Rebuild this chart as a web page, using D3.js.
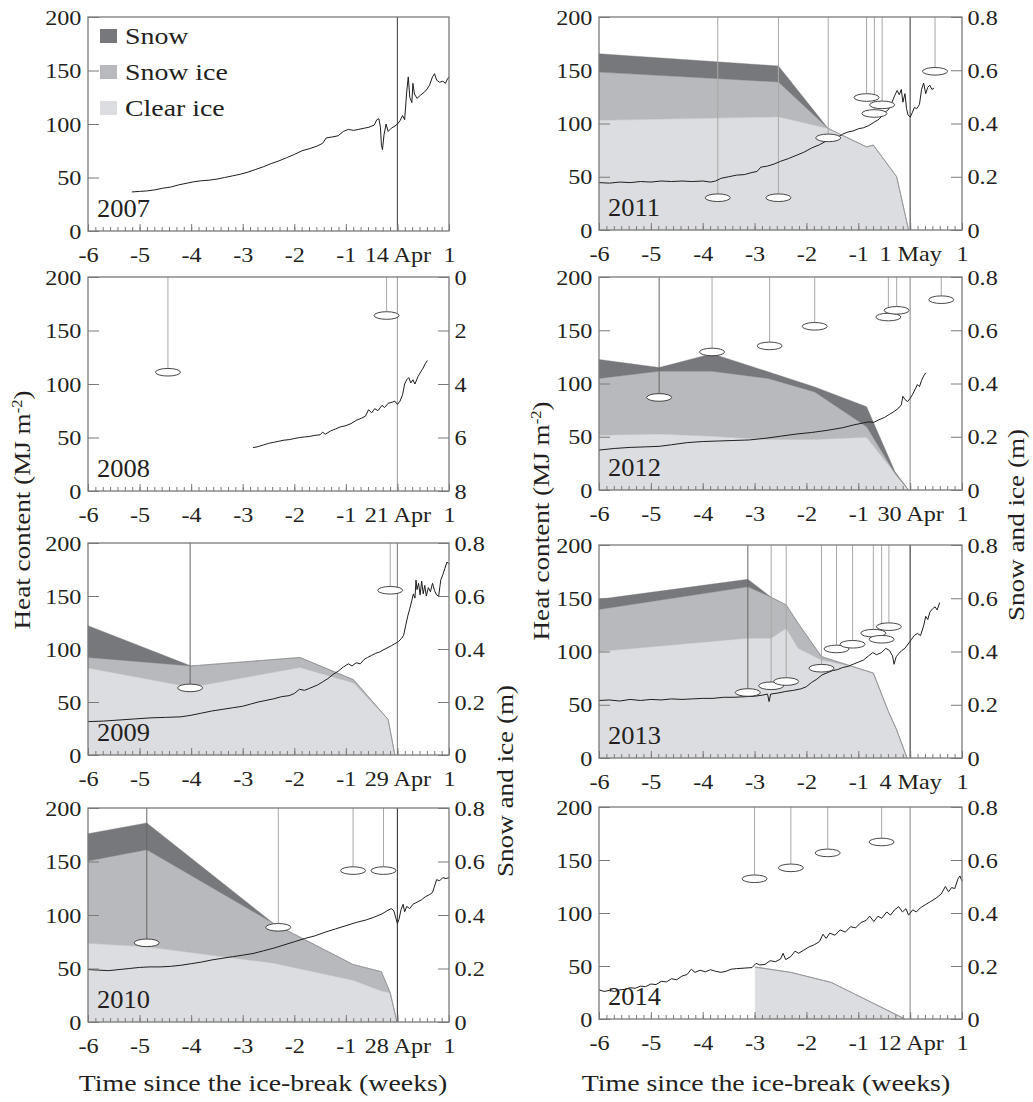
<!DOCTYPE html>
<html><head><meta charset="utf-8">
<script src="https://cdn.jsdelivr.net/npm/d3@7"></script>
<style>
html,body{margin:0;padding:0;background:#fff;}
svg{display:block;}
text{font-family:"Liberation Serif","Times New Roman",serif;fill:#231f20;}
</style></head><body>
<svg id="chart" width="1033" height="1102"></svg>
<script>
// ---------------- DATA ----------------
const years = ["2007","2008","2009","2010","2011","2012","2013","2014"];
const breakDates = ["14 Apr","21 Apr","29 Apr","28 Apr","1 May","30 Apr","4 May","12 Apr"];
const weekTicks = [-6,-5,-4,-3,-2,-1,0,1];
const heatTicks = [0,50,100,150,200];
const iceTicks = [0,0.2,0.4,0.6,0.8];
const ice2008Ticks = [0,2,4,6,8];
const layerNames = ["Snow","Snow ice","Clear ice"];

// heat content [week, MJ m-2]
const heat2007 = [[-5.15,36.5],[-5.0,37],[-4.85,37.5],[-4.7,38.5],[-4.55,40],[-4.4,41],[-4.25,43],[-4.1,44.5],[-3.95,46],[-3.8,47],[-3.65,47.5],[-3.5,48.5],[-3.35,50],[-3.2,51.5],[-3.05,53],[-2.9,55],[-2.75,57.5],[-2.6,60],[-2.45,63],[-2.3,65.5],[-2.15,68.5],[-2.0,71.5],[-1.85,75],[-1.7,77],[-1.55,79.5],[-1.45,82],[-1.38,87],[-1.25,88],[-1.15,89],[-1.05,93],[-0.95,95],[-0.85,94],[-0.75,95],[-0.65,96],[-0.55,97],[-0.45,99],[-0.4,104],[-0.36,105],[-0.33,97],[-0.31,80],[-0.29,76],[-0.26,90],[-0.22,100],[-0.18,93],[-0.12,96],[-0.05,98],[0,100],[0.05,103],[0.1,108],[0.14,104],[0.18,130],[0.21,144],[0.24,125],[0.28,120],[0.3,138],[0.33,128],[0.38,124],[0.45,127],[0.55,131],[0.62,136],[0.68,144],[0.72,147],[0.76,141],[0.82,139],[0.88,140],[0.93,138],[0.97,142],[1.0,144]];
const heat2008 = [[-2.8,40.5],[-2.7,41.5],[-2.6,43],[-2.5,44.5],[-2.4,45.5],[-2.3,46.5],[-2.2,47.5],[-2.1,48],[-2.0,49],[-1.9,50],[-1.8,50.5],[-1.7,51],[-1.6,52],[-1.5,52.5],[-1.45,55],[-1.4,53],[-1.3,56],[-1.2,58],[-1.1,60],[-1.0,61],[-0.9,63],[-0.8,66],[-0.7,68],[-0.62,70],[-0.56,76],[-0.5,73],[-0.44,77],[-0.38,75],[-0.3,80],[-0.25,78],[-0.18,82],[-0.1,83],[-0.05,84],[0,81],[0.05,84],[0.1,90],[0.14,100],[0.18,104],[0.22,106],[0.26,101],[0.3,104],[0.34,100],[0.4,107],[0.46,112],[0.5,115],[0.54,119],[0.58,122]];
const heat2009 = [[-6,31.5],[-5.7,32],[-5.4,33],[-5.1,34],[-4.8,35],[-4.5,35.5],[-4.2,36],[-4.0,37.5],[-3.8,39.5],[-3.6,41.5],[-3.4,43],[-3.2,44.5],[-3.0,46],[-2.85,48],[-2.7,50],[-2.55,51.5],[-2.4,53],[-2.25,55],[-2.1,56],[-2.0,58],[-1.9,62],[-1.8,61],[-1.7,63],[-1.55,66],[-1.45,69],[-1.35,72],[-1.25,76],[-1.15,79],[-1.05,83],[-0.95,86],[-0.88,84],[-0.8,87],[-0.72,86],[-0.65,90],[-0.58,92],[-0.5,94],[-0.42,96],[-0.35,97],[-0.28,99],[-0.2,101],[-0.12,103],[-0.05,105],[0.02,107],[0.08,110],[0.12,113],[0.16,122],[0.2,131],[0.24,138],[0.28,146],[0.31,152],[0.34,148],[0.36,165],[0.38,156],[0.41,162],[0.44,151],[0.47,164],[0.5,152],[0.53,160],[0.56,150],[0.6,158],[0.64,154],[0.68,162],[0.72,155],[0.76,151],[0.8,150],[0.84,165],[0.88,170],[0.92,176],[0.96,182],[1.0,180]];
const heat2010 = [[-6,49],[-5.8,48.5],[-5.6,48],[-5.4,49],[-5.2,50],[-5.0,51],[-4.8,51.5],[-4.6,51.5],[-4.4,52],[-4.2,53],[-4.0,54.5],[-3.8,56],[-3.6,58],[-3.4,59.5],[-3.2,61],[-3.0,62.5],[-2.8,64],[-2.6,66.5],[-2.4,69],[-2.2,72],[-2.0,75],[-1.8,78],[-1.6,80.5],[-1.4,84],[-1.2,87],[-1.0,90],[-0.8,93],[-0.6,95.5],[-0.45,98],[-0.3,101],[-0.2,104],[-0.12,106],[-0.07,104],[-0.03,97],[0,92],[0.03,96],[0.07,105],[0.11,110],[0.14,103],[0.18,108],[0.24,106],[0.3,110],[0.38,112],[0.46,114],[0.54,117],[0.62,119],[0.68,121],[0.72,127],[0.76,133],[0.82,132],[0.88,135],[0.94,134],[1.0,135]];
const heat2011 = [[-6,44.5],[-5.8,44],[-5.6,45],[-5.4,44.5],[-5.2,45.5],[-5.0,45],[-4.8,46],[-4.6,45.5],[-4.4,46],[-4.2,45.5],[-4.0,46],[-3.85,45],[-3.75,46],[-3.65,48.5],[-3.5,50],[-3.35,51.5],[-3.2,52],[-3.05,54],[-2.95,55],[-2.88,59],[-2.75,60],[-2.62,62],[-2.5,64.5],[-2.35,67],[-2.2,70],[-2.05,73],[-1.9,77],[-1.75,80],[-1.6,84],[-1.5,86],[-1.4,87],[-1.3,90],[-1.2,92],[-1.1,93],[-1.0,95],[-0.9,96],[-0.8,98],[-0.7,101],[-0.6,104],[-0.5,110],[-0.42,113],[-0.35,120],[-0.3,126],[-0.25,131],[-0.21,127],[-0.17,132],[-0.14,120],[-0.1,128],[-0.07,114],[-0.04,108],[0,106],[0.04,110],[0.08,115],[0.13,114],[0.18,118],[0.22,132],[0.26,138],[0.3,128],[0.34,134],[0.38,136],[0.42,132],[0.46,133]];
const heat2012 = [[-6,37.5],[-5.7,39],[-5.4,40],[-5.1,40.5],[-4.84,41],[-4.6,42.5],[-4.3,44.5],[-4.0,45.5],[-3.7,46],[-3.4,46.5],[-3.1,47],[-2.8,48.5],[-2.5,50.5],[-2.2,52.5],[-1.9,54],[-1.6,56],[-1.3,58.5],[-1.1,61],[-0.9,63],[-0.8,64],[-0.7,63.5],[-0.6,66],[-0.5,68],[-0.4,71],[-0.3,74],[-0.22,77],[-0.17,80],[-0.14,88],[-0.1,85],[-0.05,83],[0,86],[0.05,90],[0.1,95],[0.14,99],[0.18,97],[0.22,103],[0.26,107],[0.3,110]];
const heat2013 = [[-6,54],[-5.8,54.5],[-5.6,53.5],[-5.4,55],[-5.2,54],[-5.0,55],[-4.8,54.5],[-4.6,55.5],[-4.4,55],[-4.2,55.5],[-4.0,56],[-3.8,56],[-3.6,57],[-3.4,57],[-3.2,57.5],[-3.0,58],[-2.85,59],[-2.75,60],[-2.72,53],[-2.69,60],[-2.55,61],[-2.4,62.5],[-2.25,63.5],[-2.1,65],[-2.0,67],[-1.9,71],[-1.8,74],[-1.7,78],[-1.6,80],[-1.5,82],[-1.4,83],[-1.3,85],[-1.2,86],[-1.1,88],[-1.0,90],[-0.9,92],[-0.8,96],[-0.72,99],[-0.65,97],[-0.55,99],[-0.47,103],[-0.4,101],[-0.34,96],[-0.31,88],[-0.27,95],[-0.22,98],[-0.16,101],[-0.1,103],[-0.04,107],[0.02,111],[0.08,115],[0.14,117],[0.2,115],[0.26,124],[0.3,133],[0.34,130],[0.38,137],[0.43,140],[0.48,142],[0.52,139],[0.57,146]];
const heat2014 = [[-6,27.5],[-5.9,26],[-5.8,27],[-5.7,26],[-5.6,27.5],[-5.5,28],[-5.4,29.5],[-5.3,29],[-5.2,31],[-5.1,30.5],[-5.0,33],[-4.9,32.5],[-4.8,35.5],[-4.7,35],[-4.6,38],[-4.5,37],[-4.4,40.5],[-4.3,42],[-4.22,47],[-4.15,44],[-4.05,46],[-3.95,44.5],[-3.85,46.5],[-3.75,45],[-3.65,44],[-3.55,45],[-3.45,47],[-3.35,47.5],[-3.2,48],[-3.05,48.5],[-2.97,52.5],[-2.9,51],[-2.8,51.5],[-2.7,55],[-2.6,54],[-2.5,56.5],[-2.45,62],[-2.4,56],[-2.3,59],[-2.22,64],[-2.15,62],[-2.05,65],[-1.95,68],[-1.85,70],[-1.75,73],[-1.68,80],[-1.62,76],[-1.55,81],[-1.45,79],[-1.35,84],[-1.25,82],[-1.15,87],[-1.05,86],[-0.95,91],[-0.85,93],[-0.78,97],[-0.7,92],[-0.62,97],[-0.55,95],[-0.45,101],[-0.38,98],[-0.3,103],[-0.22,106],[-0.15,101],[-0.08,104],[-0.03,98],[0.05,103],[0.12,101],[0.2,105],[0.3,108],[0.4,111],[0.5,114],[0.6,118],[0.68,125],[0.74,120],[0.8,124],[0.86,123],[0.92,132],[0.96,135],[1.0,130]];

// snow and ice layers (m) at measurement dates (weeks)
const iceDates2009 = [-6,-4,-1.89,-0.85,-0.18,-0.05];
const clearIce2009 = [0.328,0.256,0.330,0.272,0.134,0];
const snowIce2009 = [0.040,0.080,0.038,0.012,0,0];
const snow2009 = [0.120,0,0,0,0,0];
const iceDates2010 = [-6,-4.86,-2.4,-0.86,-0.31,-0.14,-0.01];
const clearIce2010 = [0.294,0.281,0.220,0.156,0.116,0.109,0];
const snowIce2010 = [0.308,0.363,0.148,0.059,0.072,0,0];
const snow2010 = [0.102,0.100,0,0,0,0,0];
const iceDates2011 = [-6,-2.54,-1.58,-0.84,-0.71,-0.26,-0.03];
const clearIce2011 = [0.412,0.425,0.381,0.312,0.319,0.200,0];
const snowIce2011 = [0.181,0.131,0,0,0,0,0];
const snow2011 = [0.069,0.060,0,0,0,0,0];
const iceDates2012 = [-6,-4.84,-3.82,-2.74,-1.84,-0.84,-0.29,-0.03];
const clearIce2012 = [0.206,0.210,0.202,0.190,0.190,0.198,0.062,0];
const snowIce2012 = [0.213,0.236,0.244,0.229,0.178,0.040,0,0];
const snow2012 = [0.071,0.014,0.066,0.025,0.019,0.075,0.006,0];
const iceDates2013 = [-6,-3.13,-2.68,-2.39,-2.16,-1.71,-1.1,-0.71,-0.42,-0.26,-0.06];
const clearIce2013 = [0.400,0.450,0.450,0.487,0.412,0.368,0.343,0.319,0.175,0.106,0];
const snowIce2013 = [0.158,0.193,0.154,0.088,0.094,0.013,0,0,0,0,0];
const snow2013 = [0.038,0.028,0,0,0,0,0,0,0,0,0];
const iceDates2014 = [-2.99,-2.3,-1.52,-0.1];
const clearIce2014 = [0.196,0.176,0.138,0];
const snowIce2014 = [0,0,0,0];
const snow2014 = [0,0,0,0];

// measurement markers [week, heat-axis position]
const markers2008 = [[-4.45,111],[-0.21,164]];
const markers2009 = [[-4.02,63.3],[-0.14,155.4]];
const markers2010 = [[-4.86,74],[-2.31,88.5],[-0.86,141.5],[-0.27,141.5]];
const markers2011 = [[-3.71,30.3],[-2.54,30.3],[-1.58,86.5],[-0.84,124.4],[-0.54,117.5],[-0.69,109.4],[0.48,149]];
const markers2012 = [[-4.84,86.9],[-3.82,129.6],[-2.71,135.3],[-1.84,153.7],[-0.42,162.4],[-0.26,168.7],[0.6,178.7]];
const markers2013 = [[-3.13,61.5],[-2.68,67.8],[-2.39,71.8],[-1.71,84.3],[-1.42,102.4],[-1.11,106.8],[-0.71,117.2],[-0.55,111.5],[-0.41,123.3]];
const markers2014 = [[-3.0,132.3],[-2.3,142.6],[-1.59,156.7],[-0.55,167]];

// ---------------- STYLE / LAYOUT ----------------
const layerColors = {clear:"#dcdde0", snowIce:"#b8b9bc", snow:"#77787b"};
const axisColor = "#7a7a7a";
const breakColor = {"2007":"#555","2008":"#a5a5a5","2009":"#8a8a8a","2010":"#444","2011":"#555","2012":"#999","2013":"#444","2014":"#9a9a9a"};
const darkLines = {"2009":[0],"2010":[0],"2012":[0],"2013":[0]};
const cols = [{x0:88,x1:449},{x0:599,x1:962}];
const rowsLeft = [[17,231],[277,491],[543,755],[808,1022]];
const rowsRight = [[17,230],[277,490],[545,758],[807,1019]];
const TS = 1.1;   // horizontal text stretch

const svg = d3.select("#chart");

function makeIce(dates, clear, si, sn){
  return dates.map((d,i)=>({date:d, clear:clear[i], snowIce:si[i], snow:sn[i]}));
}

const panels = [
  {year:years[0], date:breakDates[0], heat:heat2007, ice:null, markers:[], right:"none", col:0, row:0},
  {year:years[1], date:breakDates[1], heat:heat2008, ice:null, markers:markers2008, right:"inv", col:0, row:1},
  {year:years[2], date:breakDates[2], heat:heat2009, ice:makeIce(iceDates2009,clearIce2009,snowIce2009,snow2009), markers:markers2009, right:"ice", col:0, row:2},
  {year:years[3], date:breakDates[3], heat:heat2010, ice:makeIce(iceDates2010,clearIce2010,snowIce2010,snow2010), markers:markers2010, right:"ice", col:0, row:3},
  {year:years[4], date:breakDates[4], heat:heat2011, ice:makeIce(iceDates2011,clearIce2011,snowIce2011,snow2011), markers:markers2011, right:"ice", col:1, row:0},
  {year:years[5], date:breakDates[5], heat:heat2012, ice:makeIce(iceDates2012,clearIce2012,snowIce2012,snow2012), markers:markers2012, right:"ice", col:1, row:1},
  {year:years[6], date:breakDates[6], heat:heat2013, ice:makeIce(iceDates2013,clearIce2013,snowIce2013,snow2013), markers:markers2013, right:"ice", col:1, row:2},
  {year:years[7], date:breakDates[7], heat:heat2014, ice:makeIce(iceDates2014,clearIce2014,snowIce2014,snow2014), markers:markers2014, right:"ice", col:1, row:3}
];

const dayTicks = d3.range(0,50).map(i=>-6+i/7);

function styleAxis(sel){
  sel.select(".domain").remove();
  sel.selectAll("line").attr("stroke",axisColor).attr("stroke-width",1);
  sel.selectAll("text").attr("font-size",22).attr("font-family",'"Liberation Serif","Times New Roman",serif')
     .attr("fill","#231f20").attr("transform",`scale(${TS},1)`);
}

panels.forEach(p=>{
  const c = cols[p.col];
  const r = (p.col ? rowsRight : rowsLeft)[p.row];
  const top = r[0], bot = r[1];
  const x = d3.scaleLinear().domain([-6,1]).range([c.x0,c.x1]);
  const y = d3.scaleLinear().domain([0,200]).range([bot,top]);
  const yIce = d3.scaleLinear().domain([0,0.8]).range([bot,top]);
  const g = svg.append("g");

  // layers
  if(p.ice){
    const series = d3.stack().keys(["clear","snowIce","snow"])(p.ice);
    const area = d3.area().x(d=>x(d.data.date)).y0(d=>yIce(d[0])).y1(d=>yIce(d[1]));
    g.selectAll("path.layer").data(series).join("path").attr("class","layer")
      .attr("d",area).attr("fill",d=>layerColors[d.key]).attr("stroke",d=>layerColors[d.key]).attr("stroke-width",0.4);
  }

  // marker lines
  const ry = 3.8, rx = 12.5;
  const dk = darkLines[p.year] || [];
  g.selectAll("line.mk").data(p.markers).join("line").attr("class","mk")
    .attr("x1",d=>x(d[0])).attr("x2",d=>x(d[0]))
    .attr("y1",top).attr("y2",d=>y(d[1])-ry)
    .attr("stroke",(d,i)=>dk.includes(i)?"#666":"#a8a8a8").attr("stroke-width",1);

  // break line
  g.append("line").attr("x1",x(0)).attr("x2",x(0)).attr("y1",top).attr("y2",bot)
    .attr("stroke",breakColor[p.year]).attr("stroke-width",1.2);

  // heat content
  const line = d3.line().x(d=>x(d[0])).y(d=>y(d[1]));
  g.append("path").datum(p.heat).attr("d",line).attr("fill","none")
    .attr("stroke","#1e1e1e").attr("stroke-width",1).attr("stroke-linejoin","round");

  // ellipses
  g.selectAll("ellipse").data(p.markers).join("ellipse")
    .attr("cx",d=>x(d[0])).attr("cy",d=>y(d[1])).attr("rx",rx).attr("ry",ry)
    .attr("fill","#fff").attr("stroke","#333").attr("stroke-width",0.9);

  // axes
  g.append("g").attr("transform",`translate(0,${bot})`)
    .call(d3.axisBottom(x).tickValues(dayTicks).tickSize(-4).tickFormat(""))
    .call(styleAxis);
  g.append("g").attr("transform",`translate(0,${bot})`)
    .call(d3.axisBottom(x).tickValues(weekTicks).tickSize(-7).tickPadding(15)
      .tickFormat(w => w===0 ? p.date : String(w)))
    .call(styleAxis);
  g.append("g").attr("transform",`translate(${c.x0},0)`)
    .call(d3.axisLeft(y).tickValues(heatTicks).tickSize(-11).tickPadding(6))
    .call(styleAxis);
  if(p.right==="ice"){
    g.append("g").attr("transform",`translate(${c.x1},0)`)
      .call(d3.axisRight(yIce).tickValues(iceTicks).tickSize(-11).tickPadding(5)
        .tickFormat(d => d===0 ? "0" : d3.format(".1f")(d)))
      .call(styleAxis);
  } else if(p.right==="inv"){
    const yInv = d3.scaleLinear().domain([0,8]).range([top,bot]);
    g.append("g").attr("transform",`translate(${c.x1},0)`)
      .call(d3.axisRight(yInv).tickValues(ice2008Ticks).tickSize(-11).tickPadding(5))
      .call(styleAxis);
  }

  // frame
  g.append("rect").attr("x",c.x0).attr("y",top).attr("width",c.x1-c.x0).attr("height",bot-top)
    .attr("fill","none").attr("stroke",axisColor).attr("stroke-width",1.3);

  // year label
  g.append("text").attr("transform",`translate(${c.x0+9},${bot-14}) scale(1.08,1)`)
    .attr("font-size",24.5).text(p.year);

  // legend in the first panel
  if(p.row===0 && p.col===0){
    const keys = ["snow","snowIce","clear"];
    const lg = g.append("g");
    keys.forEach((k,i)=>{
      lg.append("rect").attr("x",c.x0+12).attr("y",top+12+i*36).attr("width",17).attr("height",14)
        .attr("fill",layerColors[k]);
      lg.append("text").attr("transform",`translate(${c.x0+37},${top+26.5+i*36}) scale(1.16,1)`)
        .attr("font-size",24).text(layerNames[i]);
    });
  }
});

// axis titles
function vtext(xp, yp, parts, len){
  const t = svg.append("text").attr("transform",`translate(${xp},${yp}) rotate(-90) scale(1.18,1)`)
    .attr("text-anchor","middle").attr("font-size",23);
  parts(t);
}
[[30,510],[549,521]].forEach(([xp,yp])=>{
  vtext(xp,yp,t=>{
    t.append("tspan").text("Heat content (MJ m");
    t.append("tspan").attr("dy",-8).attr("font-size",14).text("-2");
    t.append("tspan").attr("dy",8).text(")");
  });
});
[[513,781],[1024,525]].forEach(([xp,yp])=>{
  vtext(xp,yp,t=>t.text("Snow and ice (m)"));
});
[[263,1091],[766,1091]].forEach(([xp,yp])=>{
  svg.append("text").attr("transform",`translate(${xp},${yp}) scale(1.16,1)`)
    .attr("text-anchor","middle").attr("font-size",24).text("Time since the ice-break (weeks)");
});
</script></body></html>
